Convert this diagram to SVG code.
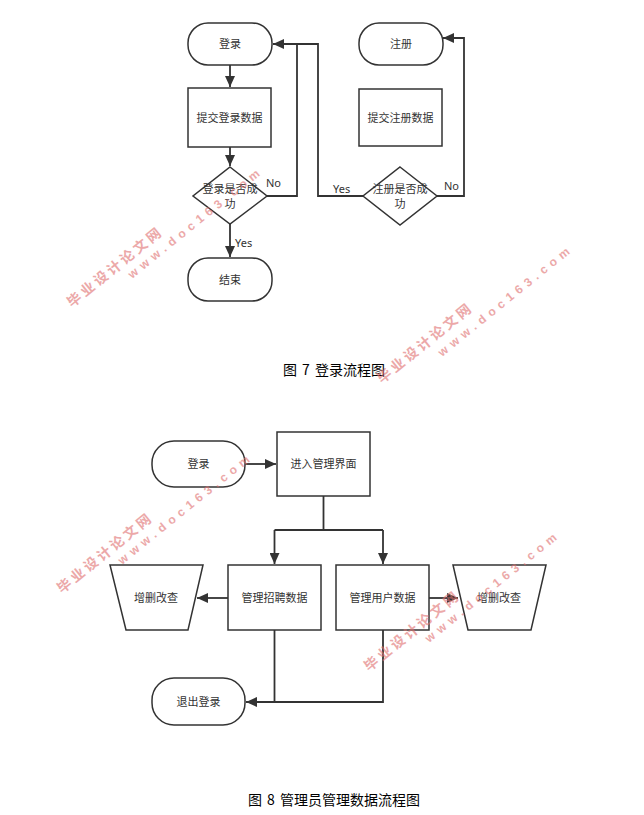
<svg xmlns="http://www.w3.org/2000/svg" width="644" height="815" viewBox="0 0 644 815">
<style>
.n{fill:#fff;stroke:#333;stroke-width:1.5}
.t{font-family:"Noto Sans CJK SC","Noto Sans",sans-serif;font-size:11px;fill:#333;text-anchor:middle}
.l{font-family:"Noto Sans","Open Sans",sans-serif;font-size:11px;fill:#333}
.c{fill:none;stroke:#333;stroke-width:1.8}
.cap{font-family:"Noto Sans CJK SC",sans-serif;font-size:14px;fill:#000;text-anchor:middle}
.w1{font-family:"Noto Sans CJK SC",sans-serif;font-size:14px;font-weight:bold;fill:#e07070;opacity:0.6;letter-spacing:3px}
.w2{font-family:"Liberation Sans",sans-serif;font-size:12px;font-weight:bold;fill:#e07070;opacity:0.6;letter-spacing:5px}
</style>
<defs>
<marker id="a" markerUnits="userSpaceOnUse" markerWidth="12" markerHeight="10" refX="11" refY="5" orient="auto">
<path d="M0,0 L11,5 L0,10 Z" fill="#333"/>
</marker>
</defs>
<rect width="644" height="815" fill="#fff"/>

<g id="connectors">
<path class="c" d="M230,65 V87" marker-end="url(#a)"/>
<path class="c" d="M230,147 V166" marker-end="url(#a)"/>
<path class="c" d="M230,224 V257" marker-end="url(#a)"/>
<path class="c" d="M267,196 H297 V44"/>
<path class="c" d="M363,196 H318 V44 H273" marker-end="url(#a)"/>
<path class="c" d="M437,196 H464 V38 H443" marker-end="url(#a)"/>
<path class="c" d="M245,464 H276" marker-end="url(#a)"/>
<path class="c" d="M323.5,496 V530"/>
<path class="c" d="M274.5,530 H383"/>
<path class="c" d="M274.5,530 V564" marker-end="url(#a)"/>
<path class="c" d="M383,530 V564" marker-end="url(#a)"/>
<path class="c" d="M228,598 H197" marker-end="url(#a)"/>
<path class="c" d="M429,598 H458" marker-end="url(#a)"/>
<path class="c" d="M274.5,630 V702"/>
<path class="c" d="M383,630 V702 H246" marker-end="url(#a)"/>
</g>
<g id="edge-labels">
<text class="l" x="235" y="247">Yes</text>
<text class="l" x="266" y="187">No</text>
<text class="l" x="333" y="193">Yes</text>
<text class="l" x="444" y="190">No</text>
</g>

<g id="login1"><rect class="n" x="188" y="23" width="84" height="42" rx="20"/><text class="t" x="230" y="48">登录</text></g>
<g id="submitLogin"><rect class="n" x="188" y="88" width="83" height="59"/><text class="t" x="229.5" y="121.5">提交登录数据</text></g>
<g id="loginOk"><path class="n" d="M230,167 L267,196 L230,224 L193,196 Z"/><text class="t" x="230" y="193">登录是否成</text><text class="t" x="230" y="207.5">功</text></g>
<g id="end"><rect class="n" x="188" y="258" width="84" height="43" rx="20"/><text class="t" x="230" y="283.5">结束</text></g>
<g id="register"><rect class="n" x="359" y="23" width="84" height="42" rx="20"/><text class="t" x="401" y="48">注册</text></g>
<g id="submitReg"><rect class="n" x="359" y="89" width="83" height="57"/><text class="t" x="400.5" y="121.5">提交注册数据</text></g>
<g id="regOk"><path class="n" d="M400,167 L437,196 L400,225 L363,196 Z"/><text class="t" x="400" y="193">注册是否成</text><text class="t" x="400" y="207.5">功</text></g>

<g id="login2"><rect class="n" x="152" y="441" width="93" height="46" rx="22"/><text class="t" x="198.5" y="468">登录</text></g>
<g id="enter"><rect class="n" x="277" y="432" width="93" height="64"/><text class="t" x="323.5" y="468">进入管理界面</text></g>
<g id="manageJob"><rect class="n" x="228" y="565" width="93" height="65"/><text class="t" x="274.5" y="602">管理招聘数据</text></g>
<g id="manageUser"><rect class="n" x="336" y="565" width="93" height="65"/><text class="t" x="382.5" y="602">管理用户数据</text></g>
<g id="crudLeft"><path class="n" d="M110,565 H203 L188,630 H126 Z"/><text class="t" x="156" y="602">增删改查</text></g>
<g id="crudRight"><path class="n" d="M453,565 H546 L531,630 H468 Z"/><text class="t" x="499" y="602">增删改查</text></g>
<g id="logout"><rect class="n" x="152" y="678" width="93" height="47" rx="22"/><text class="t" x="198.5" y="705.5">退出登录</text></g>

<text class="cap" x="334" y="375">图<tspan dx="5">7</tspan><tspan dx="5">登录流程图</tspan></text>
<text class="cap" x="334" y="805">图<tspan dx="5">8</tspan><tspan dx="5">管理员管理数据流程图</tspan></text>

<g id="watermarks">
<text class="w1" transform="translate(72,308) rotate(-39)">毕业设计论文网</text>
<text class="w2" transform="translate(132,279) rotate(-39)">www.doc163.com</text>
<text class="w1" transform="translate(382,384) rotate(-39)">毕业设计论文网</text>
<text class="w2" transform="translate(442,357) rotate(-39)">www.doc163.com</text>
<text class="w1" transform="translate(62,594) rotate(-39)">毕业设计论文网</text>
<text class="w2" transform="translate(122,565) rotate(-39)">www.doc163.com</text>
<text class="w1" transform="translate(369,672) rotate(-39)">毕业设计论文网</text>
<text class="w2" transform="translate(429,643) rotate(-39)">www.doc163.com</text>
</g>
</svg>
